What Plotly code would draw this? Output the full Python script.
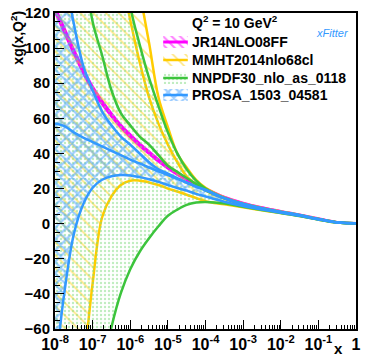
import plotly.graph_objects as go

# x grid shared by every PDF set
X = [1e-8, 1.78e-8, 3.16e-8, 5.62e-8, 1e-7, 1.78e-7, 3.16e-7, 5.62e-7,
     1e-6, 1.78e-6, 3.16e-6, 5.62e-6, 1e-5, 1.78e-5, 3.16e-5, 5.62e-5,
     1e-4, 3.16e-4, 1e-3, 3.16e-3, 1e-2, 3.16e-2, 0.1, 0.316, 0.562, 1.0]

# xg(x, Q^2 = 10 GeV^2): upper edge, central value, lower edge of each band
JR14_UP = [123.5, 111.5, 99.4, 88.3, 78.2, 70.1, 63, 56.4, 50.9, 45.8, 41.2, 36.7,
           32.6, 29.1, 25.8, 22.8, 20.2, 15.3, 11.9, 9.3, 7.2, 5.2, 3.0, 0.9, 0.5, 0.35]
JR14_C = [122, 110, 98, 87, 77, 69, 62, 55.5, 50, 45, 40.5, 36,
          32, 28.5, 25.3, 22.3, 19.8, 15, 11.6, 9.1, 7, 5, 2.8, 0.8, 0.4, 0.3]
JR14_LO = [120.5, 108.5, 96.6, 85.7, 75.8, 67.9, 61, 54.6, 49.1, 44.2, 39.8, 35.3,
           31.4, 27.9, 24.8, 21.8, 19.4, 14.7, 11.3, 8.9, 6.8, 4.8, 2.6, 0.7, 0.35, 0.25]

MMHT_UP = [610, 535, 465, 400, 340, 285, 235, 190, 160, 132, 103, 72,
           55, 40, 32, 25, 20.5, 15, 11.5, 9, 7, 5, 2.7, 0.8, 0.4, 0.3]
MMHT_C = [425, 370, 320, 275, 235, 200, 170, 142, 116, 92, 72, 57,
          45, 35, 27, 22.5, 19, 14.2, 10.9, 8.6, 6.6, 4.8, 2.6, 0.7, 0.35, 0.3]
MMHT_LO = [-265, -200, -140, -85, -34, 3.5, 15.5, 22, 24.5, 24.5, 23.5, 22,
           20, 18.3, 16.5, 14.6, 12.8, 11, 9.3, 7.6, 6, 4.4, 2.3, 0.6, 0.3, 0.2]

NNPDF_UP = [590, 515, 445, 380, 320, 265, 215, 170, 124, 102, 83, 67,
            52, 40, 31, 24.5, 20, 14.6, 11.2, 8.8, 6.7, 4.8, 2.6, 0.7, 0.35, 0.3]
NNPDF_C = [270, 225, 185, 150, 115, 96, 76, 63, 56, 49.6, 45, 39,
           33, 29.5, 26, 22.5, 19, 14.6, 11.1, 8.6, 6.5, 4.6, 2.5, 0.7, 0.35, 0.3]
NNPDF_LO = [-285, -235, -190, -150, -115, -85, -59, -39.6, -26, -16, -8.3, -1.5,
            4.5, 8, 10.7, 12, 12.3, 11.5, 9.6, 7.8, 6.1, 4.4, 2.3, 0.6, 0.3, 0.2]

PROSA_UP = [175, 143, 114, 90, 76, 64, 56, 49.6, 45, 40, 35, 31,
            28.5, 26, 23.5, 21.2, 19.3, 14.6, 11.3, 8.8, 6.8, 4.9, 2.7, 0.8, 0.4, 0.3]
PROSA_C = [57, 55.5, 52, 49, 46.5, 44, 41.5, 39, 36.5, 34.3, 32, 29.8,
           27.6, 25.5, 23.3, 21, 19, 14.4, 11.1, 8.7, 6.7, 4.8, 2.6, 0.7, 0.35, 0.3]
PROSA_LO = [-85, -39, -6, 11, 20.5, 25, 27, 27.7, 27.5, 26.5, 25.3, 23.8,
            22, 20.3, 18.8, 17, 15.5, 12.5, 10, 8, 6.2, 4.5, 2.4, 0.6, 0.3, 0.25]

SET_NAMES = ["JR14NLO08FF", "MMHT2014nlo68cl", "NNPDF30_nlo_as_0118", "PROSA_1503_04581"]

X_TICKS = [1e-8, 1e-7, 1e-6, 1e-5, 1e-4, 1e-3, 1e-2, 1e-1, 1]
X_TICKTEXT = ["10<sup>-8</sup>", "10<sup>-7</sup>", "10<sup>-6</sup>", "10<sup>-5</sup>",
              "10<sup>-4</sup>", "10<sup>-3</sup>", "10<sup>-2</sup>", "10<sup>-1</sup>", "1"]

FONT = "Liberation Sans"
W, H = 365, 358
ML, MR, MT, MB = 55, 4, 13, 29
PW, PH = W - ML - MR, H - MT - MB

MAGENTA, YELLOW, GREEN, BLUE = "#ff00ff", "#ffcc00", "#3cc43c", "#3399ff"

STYLES = [
    dict(color=MAGENTA, lw=2.2,
         pattern=dict(shape="\\", size=6, solidity=0.35, fgcolor=MAGENTA, bgcolor="rgba(0,0,0,0)")),
    dict(color=YELLOW, lw=2.5,
         pattern=dict(shape="\\", size=9, solidity=0.18, fgcolor=YELLOW, bgcolor="rgba(0,0,0,0)")),
    dict(color=GREEN, lw=2.5,
         pattern=dict(shape=".", size=4, solidity=0.28, fgcolor="#80dc80", bgcolor="rgba(0,0,0,0)")),
    dict(color=BLUE, lw=2.5,
         pattern=dict(shape="x", size=8, solidity=0.48, fgcolor="#3d9cff", bgcolor="rgba(0,0,0,0)")),
]

fig = go.Figure()


def add_band(up, central, lo, st):
    line = dict(color=st["color"], width=st["lw"], shape="spline")
    fig.add_trace(go.Scatter(x=X, y=lo, mode="lines", line=line,
                             showlegend=False, hoverinfo="skip"))
    fig.add_trace(go.Scatter(x=X, y=up, mode="lines", line=line,
                             fill="tonexty", fillcolor="rgba(0,0,0,0)",
                             fillpattern=st["pattern"], showlegend=False, hoverinfo="skip"))
    fig.add_trace(go.Scatter(x=X, y=central, mode="lines", line=line,
                             showlegend=False, hoverinfo="skip"))


for (up, c, lo), st in zip([(JR14_UP, JR14_C, JR14_LO), (MMHT_UP, MMHT_C, MMHT_LO),
                            (NNPDF_UP, NNPDF_C, NNPDF_LO), (PROSA_UP, PROSA_C, PROSA_LO)],
                           STYLES):
    add_band(up, c, lo, st)


def px_x(p):
    return (p - ML) / PW


def px_y(p):
    return 1 - (p - MT) / PH


# legend: hatched key boxes on an overlay axis spanning the frame, labels as text
rows = [42, 60, 78, 95]
for name, st, row in zip(SET_NAMES, STYLES, rows):
    x0, x1 = px_x(165), px_x(190)
    y0, y1 = px_y(row + 6), px_y(row - 6)
    fig.add_trace(go.Scatter(
        x=[x0, x1, x1, x0, x0], y=[y0, y0, y1, y1, y0], xaxis="x2", yaxis="y2",
        mode="lines", line=dict(width=0, color=st["color"]), fill="toself",
        fillcolor="rgba(0,0,0,0)", fillpattern=st["pattern"],
        showlegend=False, hoverinfo="skip"))
    fig.add_trace(go.Scatter(
        x=[x0, x1], y=[px_y(row), px_y(row)], xaxis="x2", yaxis="y2", mode="lines",
        line=dict(width=3 if st["color"] == MAGENTA else 2.5, color=st["color"]),
        showlegend=False, hoverinfo="skip"))
    fig.add_annotation(text=name, xref="paper", yref="paper", x=px_x(192), y=px_y(row),
                       xanchor="left", yanchor="middle", showarrow=False,
                       font=dict(family=FONT, size=14, color="black", weight="bold"))

minor_x = [k * 10.0 ** e for e in range(-8, 0) for k in range(2, 10)]

fig.update_layout(
    xaxis=dict(type="log", range=[-8, 0], tickvals=X_TICKS, ticktext=X_TICKTEXT,
               ticks="inside", ticklen=9, tickwidth=1.2, tickcolor="black",
               minor=dict(ticks="inside", ticklen=4.5, tickwidth=1, tickcolor="black",
                          tickvals=minor_x),
               showline=True, mirror=True, linewidth=2, linecolor="black",
               showgrid=False, zeroline=False,
               tickfont=dict(family=FONT, size=16, color="black", weight="bold")),
    yaxis=dict(range=[-60, 120], dtick=20, ticks="inside", ticklen=9, tickwidth=1.2,
               tickcolor="black",
               minor=dict(ticks="inside", ticklen=4.5, tickwidth=1, tickcolor="black", dtick=5),
               showline=True, mirror=True, linewidth=2, linecolor="black",
               showgrid=False, zeroline=False,
               tickfont=dict(family=FONT, size=15, color="black", weight="bold")),
    xaxis2=dict(overlaying="x", range=[0, 1], visible=False, anchor="y2"),
    yaxis2=dict(overlaying="y", range=[0, 1], visible=False, anchor="x2"),
)

fig.add_annotation(
    text="xg(x,Q<sup>2</sup>)", textangle=-90, xref="paper", yref="paper",
    x=px_x(16), y=px_y(9), xanchor="center", yanchor="top", showarrow=False,
    font=dict(family=FONT, size=14, color="black", weight="bold"))
fig.add_annotation(
    text="x", xref="paper", yref="paper", x=px_x(343), y=px_y(349),
    xanchor="center", yanchor="middle", showarrow=False,
    font=dict(family=FONT, size=15, color="black", weight="bold"))
fig.add_annotation(
    text="Q<sup>2</sup> = 10 GeV<sup>2</sup>", xref="paper", yref="paper",
    x=px_x(192), y=px_y(22), xanchor="left", yanchor="middle", showarrow=False,
    font=dict(family=FONT, size=14, color="black", weight="bold"))
fig.add_annotation(
    text="<i>xFitter</i>", xref="paper", yref="paper", x=px_x(337), y=px_y(33),
    xanchor="center", yanchor="middle", showarrow=False,
    font=dict(family=FONT, size=11, color="#3399ff"))

fig.update_layout(
    width=W, height=H,
    margin=dict(l=ML, r=MR, t=MT, b=MB),
    paper_bgcolor="white", plot_bgcolor="white",
    showlegend=False,
)

fig.write_html("out.html")
